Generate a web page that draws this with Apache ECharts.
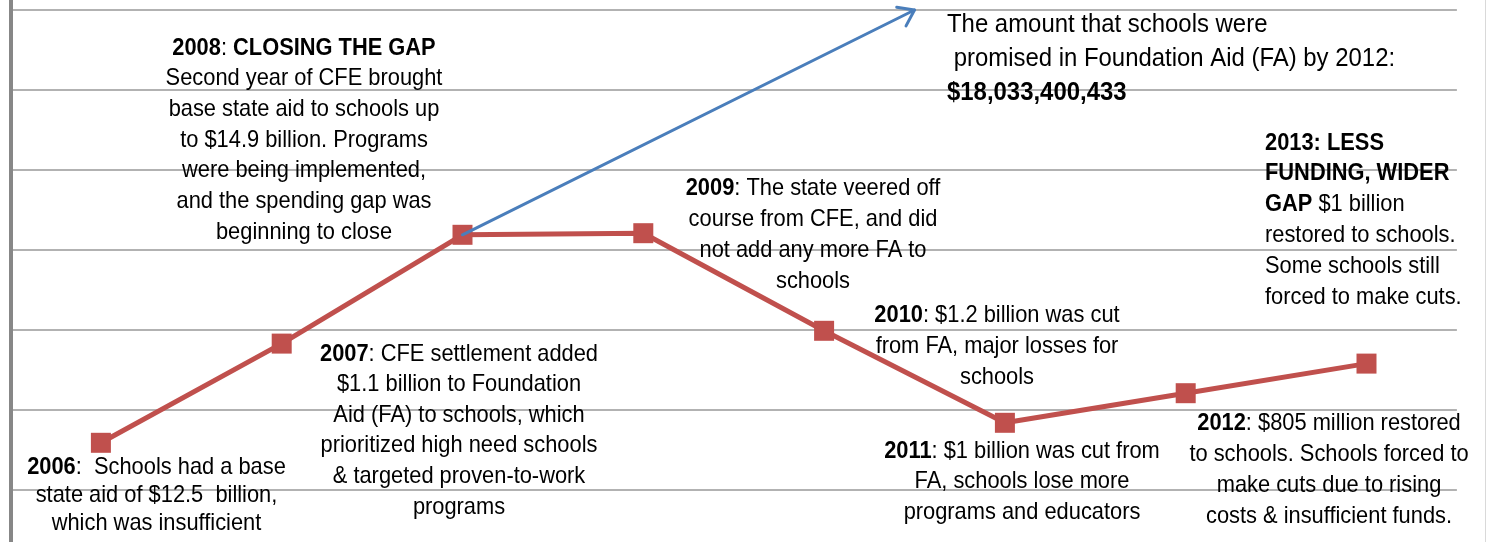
<!DOCTYPE html>
<html>
<head>
<meta charset="utf-8">
<script src="https://cdn.jsdelivr.net/npm/echarts@6/dist/echarts.min.js"></script>
<style>
html,body{margin:0;padding:0;background:#fff;}
#chart{width:1491px;height:542px;}
</style>
</head>
<body>
<div id="chart"></div>
<script>
// ---- data ----
const years = ['2006', '2007', '2008', '2009', '2010', '2011', '2012', '2013'];
const baseAid = [12.59, 13.83, 15.19, 15.21, 13.99, 12.84, 13.21, 13.58]; // $ billions
const promisedStart = [2, 15.19];   // from the 2008 point
const promisedEnd = [4.5, 18.0];    // arrow toward promised FA ($18,033,400,433)
const yTicks = [11, 12, 13, 14, 15, 16, 17, 18, 19];

// ---- annotations ----
const annotations = [
  { x: 304, y: 32.6, align: 'center', lh: 30.7, size: 24, sx: 0.91,
    text: '{b|2008}: {b|CLOSING THE GAP}\nSecond year of CFE brought\nbase state aid to schools up\nto $14.9 billion. Programs\nwere being implemented,\nand the spending gap was\nbeginning to close' },
  { x: 947, y: 8, align: 'left', lh: 34, size: 26, sx: 0.92,
    text: 'The amount that schools were\n promised in Foundation Aid (FA) by 2012:\n{b|$18,033,400,433}' },
  { x: 1265, y: 127.6, align: 'left', lh: 30.8, size: 24, sx: 0.91,
    text: '{b|2013: LESS}\n{b|FUNDING, WIDER}\n{b|GAP} $1 billion\nrestored to schools.\nSome schools still\nforced to make cuts.' },
  { x: 813, y: 172.5, align: 'center', lh: 31, size: 24, sx: 0.91,
    text: '{b|2009}: The state veered off\ncourse from CFE, and did\nnot add any more FA to\nschools' },
  { x: 997, y: 299.5, align: 'center', lh: 31, size: 24, sx: 0.91,
    text: '{b|2010}: $1.2 billion was cut\nfrom FA, major losses for\nschools' },
  { x: 459, y: 338.7, align: 'center', lh: 30.6, size: 24, sx: 0.91,
    text: '{b|2007}: CFE settlement added\n$1.1 billion to Foundation\nAid (FA) to schools, which\nprioritized high need schools\n& targeted proven-to-work\nprograms' },
  { x: 156.5, y: 453, align: 'center', lh: 28, size: 24, sx: 0.91,
    text: '{b|2006}:  Schools had a base\nstate aid of $12.5  billion,\nwhich was insufficient' },
  { x: 1022, y: 435.7, align: 'center', lh: 30.5, size: 24, sx: 0.91,
    text: '{b|2011}: $1 billion was cut from\nFA, schools lose more\nprograms and educators' },
  { x: 1329, y: 407.5, align: 'center', lh: 31, size: 24, sx: 0.91,
    text: '{b|2012}: $805 million restored\nto schools. Schools forced to\nmake cuts due to rising\ncosts & insufficient funds.' }
];

const FONT = '"Liberation Sans", Arial, sans-serif';

const chart = echarts.init(document.getElementById('chart'), null, { renderer: 'canvas' });

const graphics = annotations.map(a => ({
  type: 'text',
  x: a.x, y: a.y, z: 100,
  scaleX: a.sx,
  style: {
    text: a.text,
    textAlign: a.align,
    textVerticalAlign: 'top',
    fontSize: a.size,
    fontFamily: FONT,
    lineHeight: a.lh,
    fill: '#000',
    rich: {
      b: { fontWeight: 'bold', fontSize: a.size, fontFamily: FONT, lineHeight: a.lh, fill: '#000' }
    }
  }
}));
graphics.push({
  type: 'line', z: 0,
  shape: { x1: 1485.5, y1: 0, x2: 1485.5, y2: 542 },
  style: { stroke: '#d9d9d9', lineWidth: 1 }
});

const option = {
  animation: false,
  backgroundColor: '#fff',
  grid: { left: 10.5, top: -70, width: 1446.4, height: 640, containLabel: false, outerBoundsMode: 'none' },
  xAxis: {
    type: 'value', min: -0.5, max: 7.5, interval: 1,
    axisLine: { show: false }, axisTick: { show: false },
    axisLabel: { show: false }, splitLine: { show: false }
  },
  yAxis: {
    type: 'value', min: yTicks[0], max: yTicks[yTicks.length - 1], interval: 1,
    axisLine: { show: true, onZero: false, lineStyle: { color: '#878787', width: 4 } },
    axisTick: { show: false },
    axisLabel: { show: false },
    splitLine: { show: true, lineStyle: { color: '#999999', width: 1.5 } }
  },
  series: [
    {
      name: 'Base state aid',
      type: 'line',
      data: baseAid.map((v, i) => [i, v]),
      symbol: 'rect',
      symbolSize: 20,
      lineStyle: { color: '#C0504D', width: 5 },
      itemStyle: { color: '#C0504D' },
      z: 2
    },
    {
      name: 'Promised FA',
      type: 'custom',
      z: 5,
      data: [[promisedStart[0], promisedStart[1], promisedEnd[0], promisedEnd[1]]],
      renderItem: function (params, api) {
        const p0 = api.coord([api.value(0), api.value(1)]);
        const p1 = api.coord([api.value(2), api.value(3)]);
        const ang = Math.atan2(p0[1] - p1[1], p0[0] - p1[0]);
        const L = 18, spread = 0.62;
        const w1 = [p1[0] + L * Math.cos(ang + spread), p1[1] + L * Math.sin(ang + spread)];
        const w2 = [p1[0] + L * Math.cos(ang - spread), p1[1] + L * Math.sin(ang - spread)];
        const st = { stroke: '#4A7EBB', lineWidth: 3, fill: null, lineCap: 'round', lineJoin: 'round' };
        return {
          type: 'group',
          children: [
            { type: 'polyline', shape: { points: [p0, p1] }, style: st },
            { type: 'polyline', shape: { points: [w1, p1, w2] }, style: st }
          ]
        };
      }
    }
  ],
  graphic: graphics
};
chart.setOption(option);
</script>
</body>
</html>
